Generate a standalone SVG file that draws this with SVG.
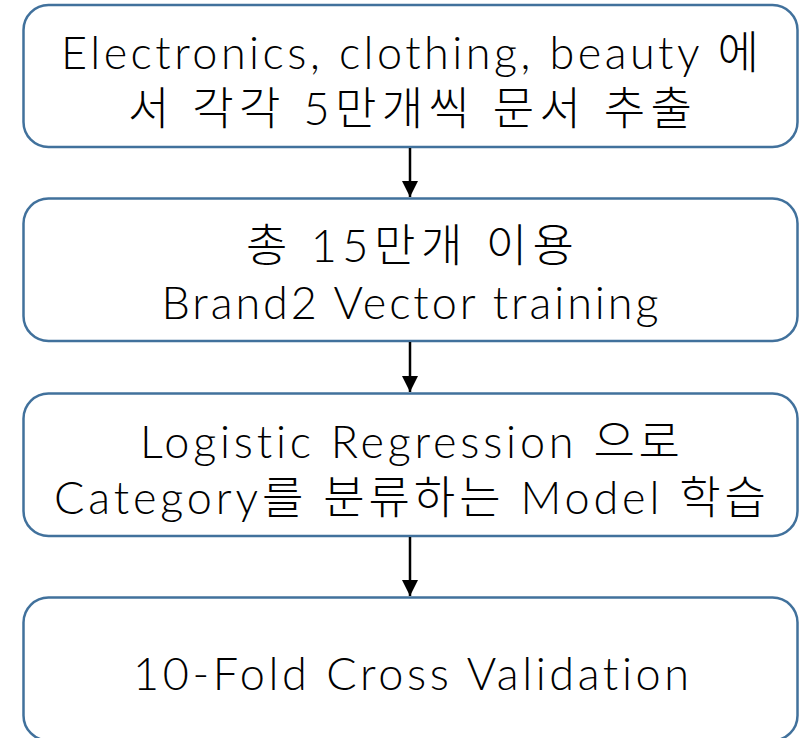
<svg xmlns="http://www.w3.org/2000/svg" width="808" height="738" viewBox="0 0 808 738">
  <style>
    .box { fill: #ffffff; stroke: #41719C; stroke-width: 2.5; }
    .t { font-family: "Lato", "Noto Sans CJK KR", sans-serif; font-weight: 300; font-size: 45px; fill: #000000; text-anchor: middle; font-variant-ligatures: none; font-feature-settings: "liga" 0, "dlig" 0, "clig" 0; }
    .conn { stroke: #000000; stroke-width: 2.5; fill: none; }
  </style>
  <defs>
    <marker id="arrow" markerUnits="userSpaceOnUse" markerWidth="16" markerHeight="16" refX="16" refY="8" orient="auto">
      <path d="M0,0 L16,8 L0,16 Z" fill="#000000"/>
    </marker>
  </defs>
  <rect x="0" y="0" width="808" height="738" fill="#ffffff"/>
  <g id="node1">
    <rect class="box" x="23.5" y="5" width="774" height="142" rx="25" ry="25"/>
    <text class="t" x="410" y="69" textLength="698" lengthAdjust="spacing">Electronics, clothing, beauty 에</text>
    <text class="t" x="410" y="125" textLength="564" lengthAdjust="spacing">서 각각 5만개씩 문서 추출</text>
  </g>
  <g id="node2">
    <rect class="box" x="23.5" y="198.5" width="774" height="142.5" rx="25" ry="25"/>
    <text class="t" x="410" y="262" textLength="328" lengthAdjust="spacing">총 15만개 이용</text>
    <text class="t" x="410" y="319" textLength="497" lengthAdjust="spacing">Brand2 Vector training</text>
  </g>
  <g id="node3">
    <rect class="box" x="23.5" y="393.5" width="774" height="142.5" rx="25" ry="25"/>
    <text class="t" x="410" y="458" textLength="540" lengthAdjust="spacing">Logistic Regression 으로</text>
    <text class="t" x="410" y="514" textLength="712" lengthAdjust="spacing">Category를 분류하는 Model 학습</text>
  </g>
  <g id="node4">
    <rect class="box" x="23.5" y="597.5" width="774" height="143" rx="25" ry="25"/>
    <text class="t" x="411" y="690" textLength="556" lengthAdjust="spacing">10-Fold Cross Validation</text>
  </g>
  <g id="connectors">
    <line class="conn" x1="410" y1="148" x2="410" y2="197" marker-end="url(#arrow)"/>
    <line class="conn" x1="410" y1="342" x2="410" y2="392" marker-end="url(#arrow)"/>
    <line class="conn" x1="410" y1="537" x2="410" y2="596" marker-end="url(#arrow)"/>
  </g>
</svg>
